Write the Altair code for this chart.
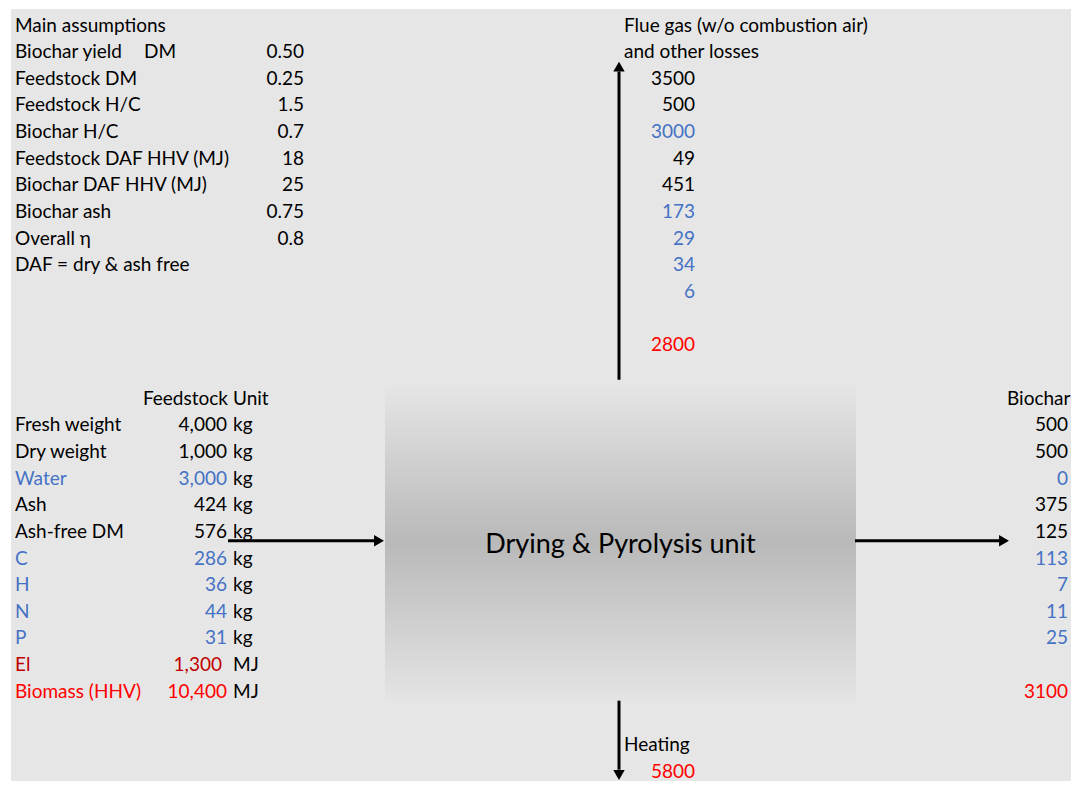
import altair as alt
import pandas as pd

# ---------------- data ----------------
assump_title = "Main assumptions"
assump_labels = ["Biochar yield", "Feedstock DM", "Feedstock H/C", "Biochar H/C",
                 "Feedstock DAF HHV (MJ)", "Biochar DAF HHV (MJ)", "Biochar ash", "Overall η"]
assump_values = ["0.50", "0.25", "1.5", "0.7", "18", "25", "0.75", "0.8"]
assump_note = "DAF = dry & ash free"

feed_labels = ["Fresh weight", "Dry weight", "Water", "Ash", "Ash-free DM",
               "C", "H", "N", "P", "El", "Biomass (HHV)"]
feed_values = ["4,000", "1,000", "3,000", "424", "576", "286", "36", "44", "31", "1,300", "10,400"]
feed_units = ["kg", "kg", "kg", "kg", "kg", "kg", "kg", "kg", "kg", "MJ", "MJ"]
feed_kind = ["k", "k", "b", "k", "k", "b", "b", "b", "b", "d", "r"]

flue_title = ["Flue gas (w/o combustion air)", "and other losses"]
flue_values = ["3500", "500", "3000", "49", "451", "173", "29", "34", "6", "", "2800"]
flue_kind = ["k", "k", "b", "k", "k", "b", "b", "b", "b", "k", "r"]

biochar_title = "Biochar"
biochar_values = ["500", "500", "0", "375", "125", "113", "7", "11", "25", "", "3100"]
biochar_kind = ["k", "k", "b", "k", "k", "b", "b", "b", "b", "k", "r"]

heating_label = "Heating"
heating_value = "5800"
unit_name = "Drying & Pyrolysis unit"

# ---------------- layout / style ----------------
PALETTE = {"k": "#000000", "b": "#4472C4", "r": "#FF0000", "d": "#C00000"}
FONT = "Lato"
FS = 19
W, H = 1060, 772
ROW_PX = 26.65
ROW0 = 14.5
Y_DOMAIN = [-ROW0 / ROW_PX, (H - ROW0) / ROW_PX]
# sheet column anchors (plot px)
C_A, C_B, C_BV, C_U, C_CV, C_F, C_FV, C_R, C_RV = 4, 133, 216, 222, 293, 613, 684, 996, 1057

left_cells = []   # left aligned cells
right_cells = []  # right aligned cells

left_cells.append((assump_title, 0, C_A, "k"))
for i, (lab, val) in enumerate(zip(assump_labels, assump_values)):
    left_cells.append((lab, i + 1, C_A, "k"))
    right_cells.append((val, i + 1, C_CV, "k"))
left_cells.append(("DM", 1, C_B, "k"))
left_cells.append((assump_note, 9, C_A, "k"))

for i, t in enumerate(flue_title):
    left_cells.append((t, i, C_F, "k"))
for i, (v, k) in enumerate(zip(flue_values, flue_kind)):
    if v:
        right_cells.append((v, i + 2, C_FV, k))

right_cells.append(("Feedstock", 14, C_BV + 1, "k"))
left_cells.append(("Unit", 14, C_U, "k"))
left_cells.append((biochar_title, 14, C_R, "k"))
for i, (lab, val, u, k) in enumerate(zip(feed_labels, feed_values, feed_units, feed_kind)):
    r = 15 + i
    left_cells.append((lab, r, C_A, k))
    right_cells.append((val, r, C_BV - (5 if val == "1,300" else 0), k))
    left_cells.append((u, r, C_U, "k"))
for i, (v, k) in enumerate(zip(biochar_values, biochar_kind)):
    if v:
        right_cells.append((v, 15 + i, C_RV, k))

left_cells.append((heating_label, 27, C_F, "k"))
right_cells.append((heating_value, 28, C_FV, "r"))

def frame(cells):
    df = pd.DataFrame(cells, columns=["text", "row", "col", "kind"])
    df["color"] = df["kind"].map(PALETTE)
    return df

df_left = frame(left_cells)
df_right = frame(right_cells)

xs = alt.Scale(domain=[0, W], nice=False, zero=False)
ys = alt.Scale(domain=Y_DOMAIN, nice=False, zero=False, reverse=True)
X = lambda f: alt.X(f, type="quantitative", scale=xs, axis=None)
Y = lambda f: alt.Y(f, type="quantitative", scale=ys, axis=None)

# box
box_df = pd.DataFrame({"x": [374], "x2": [845], "y": [13.48], "y2": [25.41],
                       "cy": [19.48], "cx": [609.5], "label": [unit_name]})
grad = alt.Gradient(
    gradient="linear",
    stops=[alt.GradientStop(offset=0, color="#e6e6e6"),
           alt.GradientStop(offset=0.5, color="#b9b9b9"),
           alt.GradientStop(offset=1, color="#e4e4e4")],
    x1=0, x2=0, y1=0, y2=1)
box = alt.Chart(box_df).mark_rect(fill=grad).encode(
    x=X("x"), x2="x2", y=Y("y"), y2="y2")
box_text = alt.Chart(box_df).mark_text(font=FONT, fontSize=27, color="#000000", dy=2).encode(
    x=X("cx"), y=Y("cy"), text="label:N")

# arrows
lines_df = pd.DataFrame({
    "x": [217, 844, 608, 608], "x2": [369, 995, 608, 608],
    "y": [19.41, 19.41, 13.37, 25.41], "y2": [19.41, 19.41, 1.80, 28.0]})
lines = alt.Chart(lines_df).mark_rule(strokeWidth=3, color="#000000").encode(
    x=X("x"), x2="x2", y=Y("y"), y2="y2")
heads_df = pd.DataFrame({
    "x": [368, 993, 608, 608], "y": [19.41, 19.41, 1.62, 28.2],
    "shape": ["triangle-right", "triangle-right", "triangle-up", "triangle-down"]})
heads = alt.Chart(heads_df).mark_point(filled=True, opacity=1, size=130, color="#000000").encode(
    x=X("x"), y=Y("y"), shape=alt.Shape("shape:N", scale=None))

txt_left = alt.Chart(df_left).mark_text(font=FONT, fontSize=FS, align="left", baseline="middle", dy=2).encode(
    x=X("col"), y=Y("row"), text="text:N", color=alt.Color("color:N", scale=None))
txt_right = alt.Chart(df_right).mark_text(font=FONT, fontSize=FS, align="right", baseline="middle", dy=2).encode(
    x=X("col"), y=Y("row"), text="text:N", color=alt.Color("color:N", scale=None))

chart = alt.layer(box, box_text, lines, heads, txt_left, txt_right).properties(
    width=W, height=H,
    padding={"left": 3, "top": 1, "right": 0, "bottom": 0},
    autosize=alt.AutoSizeParams(type="none"),
    background="#ffffff",
).configure_view(fill="#e7e6e6", strokeWidth=0)

chart.save("out.html", embed_options={"renderer": "svg", "actions": False})
